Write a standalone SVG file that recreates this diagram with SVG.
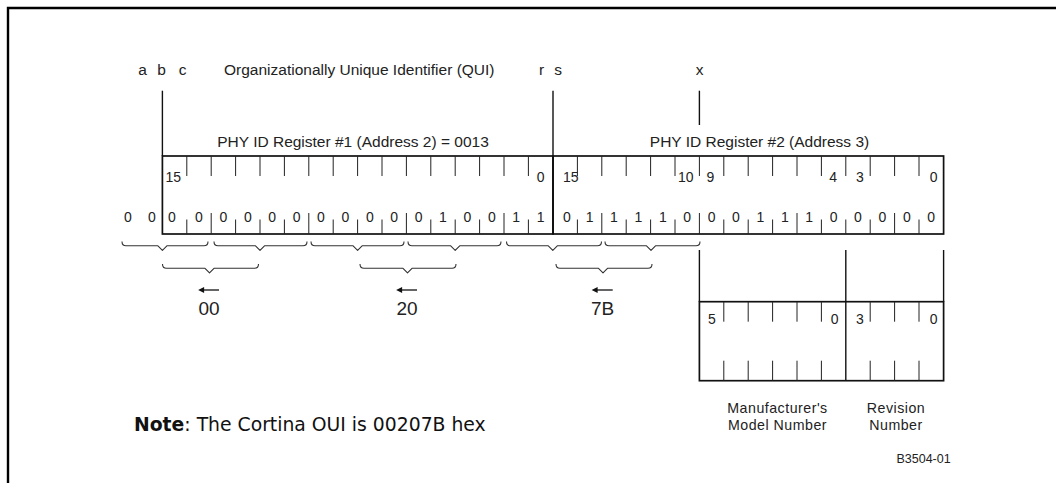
<svg xmlns="http://www.w3.org/2000/svg" width="1056" height="483" viewBox="0 0 1056 483">
<style>
.t{font-family:"Liberation Sans",Arial,sans-serif;fill:#222}
.lbl{font-size:15.5px}
.cap{font-size:14.2px}
.bit{font-size:14px}
.num{font-size:14px}
.hex{font-size:19px}
.box{fill:none;stroke:#111;stroke-width:1.7}
.tk{stroke:#222;stroke-width:1}
.vl{stroke:#111;stroke-width:1.4}
.br{fill:none;stroke:#333;stroke-width:1.1;stroke-linejoin:round}
.ar{stroke:#111;stroke-width:1.3}
</style>
<defs>
<marker id="ah" viewBox="0 0 10 10" refX="1" refY="5" markerWidth="7" markerHeight="6" markerUnits="userSpaceOnUse" orient="auto-start-reverse">
<path d="M0,0 L10,5 L0,10 z" fill="#111"/>
</marker>
</defs>
<rect width="1056" height="483" fill="#fff"/>
<path d="M8,483 V8 H1056" fill="none" stroke="#000" stroke-width="2.4"/>

<g id="top-labels">
<text class="t lbl" x="142.5" y="75" text-anchor="middle">a</text>
<text class="t lbl" x="161.5" y="75" text-anchor="middle">b</text>
<text class="t lbl" x="182.5" y="75" text-anchor="middle">c</text>
<text class="t lbl" x="224" y="75">Organizationally Unique Identifier (QUI)</text>
<text class="t lbl" x="541.5" y="75" text-anchor="middle">r</text>
<text class="t lbl" x="558" y="75" text-anchor="middle">s</text>
<text class="t lbl" x="699.5" y="75" text-anchor="middle">x</text>
</g>

<g id="connectors">
<line class="vl" x1="162.4" y1="90.7" x2="162.4" y2="156"/>
<line class="vl" x1="553" y1="90.7" x2="553" y2="234"/>
<line class="vl" x1="699.4" y1="90.7" x2="699.4" y2="125"/>
<line class="vl" x1="699.4" y1="250" x2="699.4" y2="301.7"/>
<line class="vl" x1="845.8" y1="250" x2="845.8" y2="301.7"/>
<line class="vl" x1="943.6" y1="250" x2="943.6" y2="301.7"/>
<line class="ar" x1="203.5" y1="290" x2="219" y2="290" marker-start="url(#ah)"/>
<line class="ar" x1="401.5" y1="290" x2="417" y2="290" marker-start="url(#ah)"/>
<line class="ar" x1="597" y1="290" x2="612.7" y2="290" marker-start="url(#ah)"/>
</g>

<g id="reg1">
<text class="t lbl" x="353" y="146.7" text-anchor="middle">PHY ID Register #1 (Address 2) = 0013</text>
<rect class="box" x="162.4" y="156" width="390.6" height="78"/>
<path class="tk" d="M186.8,156v20M211.2,156v20M235.6,156v20M260,156v20M284.4,156v20M308.8,156v20M333.2,156v20M357.6,156v20M382,156v20M406.4,156v20M430.8,156v20M455.2,156v20M479.6,156v20M504,156v20M528.4,156v20"/>
<path class="tk" d="M186.8,219.5v14.5M211.2,213v21M235.6,219.5v14.5M260,219.5v14.5M284.4,219.5v14.5M308.8,213v21M333.2,219.5v14.5M357.6,219.5v14.5M382,219.5v14.5M406.4,213v21M430.8,219.5v14.5M455.2,219.5v14.5M479.6,219.5v14.5M504,213v21M528.4,219.5v14.5"/>
<text class="t num" x="165.5" y="182">15</text>
<text class="t num" x="544.5" y="182" text-anchor="end">0</text>
<g class="t bit" text-anchor="middle">
<text x="128" y="221.5">0</text><text x="152" y="221.5">0</text>
<text x="172" y="221.5">0</text><text x="199" y="221.5">0</text><text x="223.4" y="221.5">0</text><text x="247.8" y="221.5">0</text>
<text x="272.2" y="221.5">0</text><text x="296.6" y="221.5">0</text><text x="321" y="221.5">0</text><text x="345.4" y="221.5">0</text>
<text x="369.8" y="221.5">0</text><text x="394.2" y="221.5">0</text><text x="418.6" y="221.5">0</text><text x="443" y="221.5">1</text>
<text x="467.4" y="221.5">0</text><text x="491.8" y="221.5">0</text><text x="516.2" y="221.5">1</text><text x="540.6" y="221.5">1</text>
</g>
</g>

<g id="reg2">
<text class="t lbl" x="759.5" y="146.7" text-anchor="middle">PHY ID Register #2 (Address 3)</text>
<rect class="box" x="553" y="156" width="390.6" height="78"/>
<path class="tk" d="M577.4,156v20M601.8,156v20M626.2,156v20M650.6,156v20M675,156v20M699.4,156v20M723.8,156v20M748.2,156v20M772.6,156v20M797,156v20M821.4,156v20M845.8,156v20M870.2,156v20M894.6,156v20M919,156v20"/>
<path class="tk" d="M577.4,219.5v14.5M601.8,213v21M626.2,219.5v14.5M650.6,219.5v14.5M675,219.5v14.5M699.4,213v21M723.8,219.5v14.5M748.2,219.5v14.5M772.6,219.5v14.5M797,213v21M821.4,219.5v14.5M845.8,219.5v14.5M870.2,219.5v14.5M894.6,213v21M919,219.5v14.5"/>
<text class="t num" x="563" y="182">15</text>
<text class="t num" x="693.5" y="182" text-anchor="end">10</text>
<text class="t num" x="706.5" y="182">9</text>
<text class="t num" x="837" y="182" text-anchor="end">4</text>
<text class="t num" x="856" y="182">3</text>
<text class="t num" x="937.5" y="182" text-anchor="end">0</text>
<g class="t bit" text-anchor="middle">
<text x="567" y="221.5">0</text><text x="589.6" y="221.5">1</text><text x="614" y="221.5">1</text><text x="638.4" y="221.5">1</text>
<text x="662.8" y="221.5">1</text><text x="687.2" y="221.5">0</text><text x="711.6" y="221.5">0</text><text x="736" y="221.5">0</text>
<text x="760.4" y="221.5">1</text><text x="784.8" y="221.5">1</text><text x="809.2" y="221.5">1</text><text x="833.6" y="221.5">0</text>
<text x="858" y="221.5">0</text><text x="882.4" y="221.5">0</text><text x="906.8" y="221.5">0</text><text x="931.2" y="221.5">0</text>
</g>
</g>

<g id="braces">
<path class="br" d="M122,241.5q0,4.3 4,4.3H157.9L162.4,250.3L166.9,245.8H204q4,0 4,-4.3"/>
<path class="br" d="M214,241.5q0,4.3 4,4.3H255.5L260,250.3L264.5,245.8H303q4,0 4,-4.3"/>
<path class="br" d="M311,241.5q0,4.3 4,4.3H353.1L357.6,250.3L362.1,245.8H400q4,0 4,-4.3"/>
<path class="br" d="M408,241.5q0,4.3 4,4.3H450.7L455.2,250.3L459.7,245.8H497q4,0 4,-4.3"/>
<path class="br" d="M506.5,241.5q0,4.3 4,4.3H548.3L552.8,250.3L557.3,245.8H597.5q4,0 4,-4.3"/>
<path class="br" d="M605,241.5q0,4.3 4,4.3H646.5L651,250.3L655.5,245.8H696q4,0 4,-4.3"/>
<path class="br" d="M162.5,264q0,4.3 4,4.3H205L209.5,272.8L214,268.3H254.5q4,0 4,-4.3"/>
<path class="br" d="M360,264q0,4.3 4,4.3H403L407.5,272.8L412,268.3H452q4,0 4,-4.3"/>
<path class="br" d="M556,264q0,4.3 4,4.3H598.5L603,272.8L607.5,268.3H648q4,0 4,-4.3"/>
</g>

<g id="hex-labels">
<text class="t hex" x="209" y="315" text-anchor="middle">00</text>
<text class="t hex" x="407" y="315" text-anchor="middle">20</text>
<text class="t hex" x="602.5" y="315" text-anchor="middle">7B</text>
</g>

<g id="model-box">
<rect class="box" x="699.4" y="301.7" width="244.2" height="79"/>
<line class="vl" x1="845.8" y1="301.7" x2="845.8" y2="380.7"/>
<path class="tk" d="M723.8,301.7v20M748.2,301.7v20M772.6,301.7v20M797,301.7v20M821.4,301.7v20M870.2,301.7v20M894.6,301.7v20M919,301.7v20"/>
<path class="tk" d="M723.8,360.7v20M748.2,360.7v20M772.6,360.7v20M797,360.7v20M821.4,360.7v20M870.2,360.7v20M894.6,360.7v20M919,360.7v20"/>
<text class="t num" x="708" y="323.5">5</text>
<text class="t num" x="838.5" y="323.5" text-anchor="end">0</text>
<text class="t num" x="856" y="323.5">3</text>
<text class="t num" x="937.5" y="323.5" text-anchor="end">0</text>
</g>

<g id="captions">
<text class="t cap" x="777.5" y="413" text-anchor="middle" letter-spacing="0.5">Manufacturer's</text>
<text class="t cap" x="777.5" y="429.5" text-anchor="middle" letter-spacing="0.5">Model Number</text>
<text class="t cap" x="896" y="413" text-anchor="middle" letter-spacing="0.5">Revision</text>
<text class="t cap" x="896" y="429.5" text-anchor="middle" letter-spacing="0.5">Number</text>
<text class="t" x="950.7" y="462.7" text-anchor="end" font-size="12.5">B3504-01</text>
</g>

<g id="note">
<text x="134" y="431" font-family="'DejaVu Sans',Verdana,sans-serif" font-size="18.8" fill="#111"><tspan font-weight="bold">Note</tspan>: The Cortina OUI is 00207B hex</text>
</g>
</svg>
